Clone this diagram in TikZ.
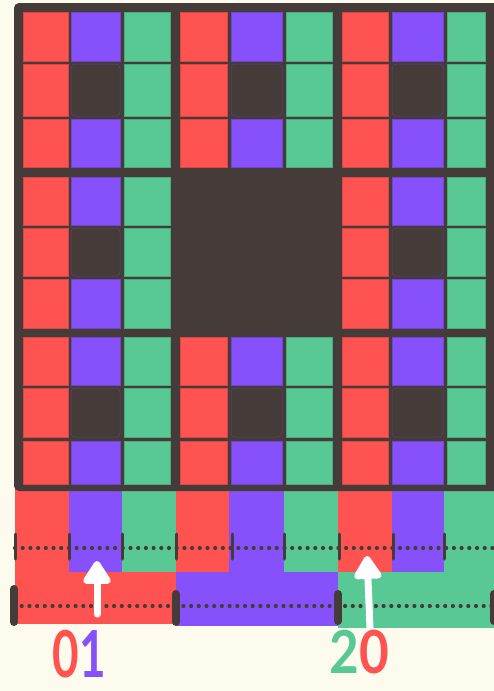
\documentclass[tikz,border=0pt]{standalone}
\usepackage{fontspec}
\setmainfont{Lato}
\usetikzlibrary{arrows.meta}
\definecolor{cr}{HTML}{FE5350}
\definecolor{cp}{HTML}{8650FA}
\definecolor{cg}{HTML}{58C994}
\definecolor{darkc}{HTML}{453C39}
\definecolor{bgc}{HTML}{FDFAEE}
\tikzset{
  centercell/.style={fill=darkc, draw=cp!35!darkc, line width=0.5pt, rounded corners=4pt},
  dotline/.style={darkc, line width=4.2pt, line cap=round, dash pattern=on 0pt off 7.7pt},
  smalltick/.style={darkc, line width=3pt, line cap=round},
  bigtick/.style={darkc, line width=8pt, line cap=round},
  whitearrow/.style={white, line width=7pt, line cap=round, -{Triangle[length=26pt,width=31pt,round]}},
  digit/.style={font=\fontsize{54}{54}\selectfont\bfseries, inner sep=0pt, anchor=base},
}
\begin{document}
\begin{tikzpicture}[x=1pt,y=-1pt]
\useasboundingbox (0,0) rectangle (494,691);
\fill[bgc] (0,0) rectangle (494,691);
\begin{scope}
\clip (0,0) rectangle (494,691);
% level 1 bars
\foreach \xa/\xb/\cc in {15/69/cr,69/122/cp,122/176/cg,176/229/cr,229/284/cp,284/338/cg,338/392/cr,392/444/cp,444/500/cg}
  \fill[\cc] (\xa,488) rectangle (\xb,573);
% level 2 bars
\fill[cr] (15,572) rectangle (176,624);
\fill[cp] (176,572) rectangle (338,626);
\fill[cg] (338,572) rectangle (500,628);
% grid background
\fill[darkc, rounded corners=5pt] (14,3) rectangle (510,491);
% cells
\foreach \xa/\xb/\cc [count=\ci] in {23/68/cr,71/120/cp,124/170/cg,180/227/cr,231/282/cp,286/332/cg,342/388/cr,392/443/cp,447/485/cg}{
  \foreach \ya/\yb [count=\ri] in {12/61,64/116,119/167,177/225,228/276,279/328,337/385,388/437,441/484}{
    \pgfmathtruncatemacro\iscen{and(mod(\ci,3)==2, mod(\ri,3)==2)}
    \pgfmathtruncatemacro\ismidb{and(and(\ci>3,\ci<7),and(\ri>3,\ri<7))}
    \ifnum\ismidb=1\relax\else
      \ifnum\iscen=1\relax
        \path[centercell] (\xa,\ya) rectangle (\xb,\yb);
      \else
        \path[fill=\cc, draw=\cc!85!black, line width=0.5pt] (\xa,\ya) rectangle (\xb,\yb);
      \fi
    \fi
  }
}
% dotted axes
\draw[dotline] (15,548) -- (494,548);
\draw[dotline] (14,606) -- (494,606);
\foreach \x in {15,69,122,176,232,284,339,393,444}
  \draw[smalltick] (\x,534) -- (\x,559);
\draw[bigtick] (14,589) -- (14,622);
\draw[bigtick] (176,594) -- (176,622);
\draw[bigtick] (338,594) -- (338,621);
\draw[bigtick] (494,594) -- (494,621);
\end{scope}
% arrows
\coordinate (a1s) at (97,614);
\coordinate (a1e) at (97,561);
\coordinate (a2s) at (370,628);
\coordinate (a2e) at (367,556);
\draw[whitearrow] (a1s) -- (a1e);
\draw[whitearrow] (a2s) -- (a2e);
% labels
\node[digit] (lab01) at (79,677) {\scalebox{0.85}[1.2]{\textcolor{cr}{0}\textcolor{cp}{1}}};
\node[digit] (lab20) at (359,673) {\scalebox{0.95}[1.1]{\textcolor{cg}{2}\textcolor{cr}{0}}};
\end{tikzpicture}
\end{document}
